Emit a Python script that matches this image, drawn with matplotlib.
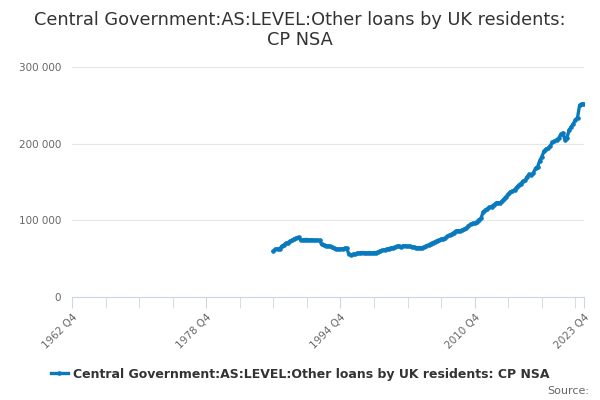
import numpy as np
import matplotlib
matplotlib.use("Agg")
import matplotlib.pyplot as plt
from matplotlib.ticker import FuncFormatter

# quarterly values, GBP million, 1986 Q4 .. 2023 Q4
first_quarter = "1986 Q4"
values = [
    60,
    62, 63, 63, 66,            # 1987
    68, 70, 71, 73,            # 1988
    74, 76, 77, 78,            # 1989
    74, 74.5, 75, 75,          # 1990
    74.5, 74.5, 74, 74,        # 1991
    74, 74, 68.5, 68,          # 1992
    67, 66.5, 66, 65,          # 1993
    64, 63, 62.5, 62.5,        # 1994
    63, 63.5, 63.5, 55.5,      # 1995
    55, 55.5, 56, 57,          # 1996
    57.5, 58, 58, 57.5,        # 1997
    57.5, 58, 57.5, 58,        # 1998
    58, 59, 60, 61,            # 1999
    61.5, 62.5, 63, 64,        # 2000
    64.5, 65, 66, 66.5,        # 2001
    65.5, 67, 66.5, 66,        # 2002
    66, 65.5, 65, 64.5,        # 2003
    64.5, 64, 64.5, 65.5,      # 2004
    67, 68, 69.5, 71,          # 2005
    72, 73.5, 74.5, 75.5,      # 2006
    76, 77, 79, 81,            # 2007
    82, 84, 86, 86.5,          # 2008
    86, 87.5, 88.5, 90,        # 2009
    93, 95, 96, 96,            # 2010
    98, 101, 102.5, 111,       # 2011
    113, 115, 117, 118,        # 2012
    120, 122, 123, 122.5,      # 2013
    125, 128, 131, 134,        # 2014
    137, 138, 140, 143,        # 2015
    146, 148, 151, 152,        # 2016
    157, 160, 159, 162,        # 2017
    168, 170, 178, 183,        # 2018
    190, 193, 194, 197,        # 2019
    202, 203, 205, 207,        # 2020
    212, 214, 205, 208,        # 2021
    218, 222, 226, 231,        # 2022
    234, 250, 252, 252,        # 2023
]
values = np.array(values) * 1000

axis_start_year = 1962  # axis starts at 1962 Q4
tick_labels = ["1962 Q4", "1978 Q4", "1994 Q4", "2010 Q4", "2023 Q4"]

title = "Central Government:AS:LEVEL:Other loans by UK residents:\nCP NSA"
series_name = "Central Government:AS:LEVEL:Other loans by UK residents: CP NSA"

# quarter index counted from 1962 Q4
def qindex(label):
    y, q = label.split(" Q")
    return (int(y) - axis_start_year) * 4 + int(q) - 4

start = qindex(first_quarter)
x = np.arange(start, start + len(values))
tick_pos = [qindex(t) for t in tick_labels]
x_end = tick_pos[-1]

fig = plt.figure(figsize=(6, 4), dpi=100)
ax = fig.add_axes([0.12, 0.2575, 0.853, 0.575])

ax.plot(x, values, color="#0a7abf", lw=2.4, marker="o", ms=2.3,
        label=series_name, zorder=3)

ax.set_xlim(0, x_end)
ax.set_ylim(0, 300000)
ax.set_yticks([0, 100000, 200000, 300000])
ax.yaxis.set_major_formatter(FuncFormatter(
    lambda v, p: f"{int(v):,}".replace(",", " ")))
ax.grid(axis="y", color="#e6e6e6", lw=0.8)
ax.set_axisbelow(True)

ax.set_xticks(tick_pos)
ax.set_xticklabels(tick_labels, rotation=45, ha="right", rotation_mode="anchor")
ax.set_xticks(np.arange(0, x_end, 16), minor=True)

for s in ["top", "right", "left"]:
    ax.spines[s].set_visible(False)
ax.spines["bottom"].set_color("#ccd6eb")
ax.tick_params(axis="y", length=0, labelsize=7.5, labelcolor="#666666", pad=8)
ax.tick_params(axis="x", which="both", length=8, color="#ccd6eb",
               labelsize=7.5, labelcolor="#666666", pad=3)

fig.suptitle(title, fontsize=12.8, color="#333333", y=0.972, linespacing=1.15)

leg = fig.legend(loc="lower center", bbox_to_anchor=(0.5, 0.02), frameon=False,
                 prop={"size": 9, "weight": "bold"}, handlelength=1.4,
                 handletextpad=0.4, markerscale=1)
for t in leg.get_texts():
    t.set_color("#333333")
fig.text(0.982, 0.01, "Source:", ha="right", va="bottom", fontsize=8,
         color="#666666")

fig.savefig("out.png", dpi=100)
